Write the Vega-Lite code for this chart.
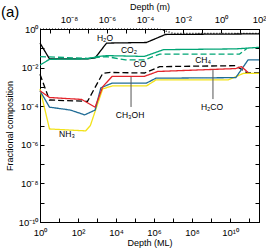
{
  "$schema": "https://vega.github.io/schema/vega-lite/v6.json",
  "width": 219,
  "height": 193,
  "autosize": {"type": "none"},
  "padding": {"left": 40, "top": 29, "right": 7, "bottom": 28},
  "title": {"text": "(a)", "anchor": "start", "frame": "group", "fontSize": 15, "fontWeight": "normal", "dx": -39, "dy": 22, "color": "black"},
  "config": {
    "font": "Liberation Sans",
    "view": {"stroke": "black", "strokeWidth": 1},
    "axis": {
      "grid": false, "domainColor": "black", "tickColor": "black", "labelColor": "black", "titleColor": "black",
      "labelFontSize": 9.5, "titleFontSize": 9, "titleFontWeight": "normal", "tickSize": -4,
      "labelFlush": false, "labelOverlap": false
    }
  },
  "datasets": {
    "lines": [
      {"s": "Total", "x": 1, "f": 0.97}, {"s": "Total", "x": 2e6, "f": 0.97}, {"s": "Total", "x": 1e7, "f": 0.6}, {"s": "Total", "x": 3.333e11, "f": 0.6},
      {"s": "H2O", "x": 1, "f": 0.186}, {"s": "H2O", "x": 3.16, "f": 0.0282}, {"s": "H2O", "x": 316, "f": 0.0282}, {"s": "H2O", "x": 794, "f": 0.0316}, {"s": "H2O", "x": 3162, "f": 0.186}, {"s": "H2O", "x": 3.98e5, "f": 0.2}, {"s": "H2O", "x": 3.98e6, "f": 0.52}, {"s": "H2O", "x": 3.333e11, "f": 0.56},
      {"s": "CO2", "x": 1, "f": 0.0135}, {"s": "CO2", "x": 3.16, "f": 0.0269}, {"s": "CO2", "x": 316, "f": 0.0282}, {"s": "CO2", "x": 1000, "f": 0.0372}, {"s": "CO2", "x": 3162, "f": 0.0417}, {"s": "CO2", "x": 3.16e5, "f": 0.038}, {"s": "CO2", "x": 3.16e6, "f": 0.0851}, {"s": "CO2", "x": 2e10, "f": 0.0933}, {"s": "CO2", "x": 3.333e11, "f": 0.112},
      {"s": "CO", "x": 1, "f": 0.0372}, {"s": "CO", "x": 316, "f": 0.0302}, {"s": "CO", "x": 3162, "f": 0.0372}, {"s": "CO", "x": 3.16e4, "f": 0.0251}, {"s": "CO", "x": 3.16e5, "f": 0.0251}, {"s": "CO", "x": 2e6, "f": 0.0501}, {"s": "CO", "x": 3.16e10, "f": 0.0501}, {"s": "CO", "x": 7.94e10, "f": 0.1},
      {"s": "CH4", "x": 1, "f": 0.00447}, {"s": "CH4", "x": 3.16, "f": 2.09e-4}, {"s": "CH4", "x": 316, "f": 1.78e-4}, {"s": "CH4", "x": 1995, "f": 0.005}, {"s": "CH4", "x": 5012, "f": 0.00562}, {"s": "CH4", "x": 3.16e5, "f": 0.00525}, {"s": "CH4", "x": 2e6, "f": 0.0112}, {"s": "CH4", "x": 2e10, "f": 0.0126}, {"s": "CH4", "x": 7.94e10, "f": 0.00525}, {"s": "CH4", "x": 3.333e11, "f": 0.00525},
      {"s": "NH3", "x": 1, "f": 7.94e-4}, {"s": "NH3", "x": 3.16, "f": 6.61e-6}, {"s": "NH3", "x": 251, "f": 5.25e-6}, {"s": "NH3", "x": 447, "f": 1e-5}, {"s": "NH3", "x": 1995, "f": 7.94e-4}, {"s": "NH3", "x": 6310, "f": 1.12e-3}, {"s": "NH3", "x": 3.98e5, "f": 1.12e-3}, {"s": "NH3", "x": 1.26e6, "f": 2.29e-3}, {"s": "NH3", "x": 7.94e9, "f": 2.29e-3}, {"s": "NH3", "x": 5.01e10, "f": 5.01e-3}, {"s": "NH3", "x": 3.333e11, "f": 5.01e-3},
      {"s": "H2CO", "x": 1, "f": 6.31e-4}, {"s": "H2CO", "x": 3.16, "f": 8.91e-5}, {"s": "H2CO", "x": 39.8, "f": 6.31e-5}, {"s": "H2CO", "x": 224, "f": 3.55e-5}, {"s": "H2CO", "x": 794, "f": 6.31e-5}, {"s": "H2CO", "x": 1585, "f": 8.91e-4}, {"s": "H2CO", "x": 6310, "f": 1.58e-3}, {"s": "H2CO", "x": 3.98e5, "f": 1.58e-3}, {"s": "H2CO", "x": 1.26e6, "f": 2.82e-3}, {"s": "H2CO", "x": 2e10, "f": 3.02e-3}, {"s": "H2CO", "x": 8.91e10, "f": 0.0251}, {"s": "H2CO", "x": 3.333e11, "f": 0.0251},
      {"s": "CH3OH", "x": 1, "f": 6.31e-4}, {"s": "CH3OH", "x": 3.16, "f": 2.82e-4}, {"s": "CH3OH", "x": 158, "f": 2.24e-4}, {"s": "CH3OH", "x": 794, "f": 8.91e-5}, {"s": "CH3OH", "x": 1995, "f": 1.02e-3}, {"s": "CH3OH", "x": 6310, "f": 3.55e-3}, {"s": "CH3OH", "x": 3.16e5, "f": 3.55e-3}, {"s": "CH3OH", "x": 1.58e6, "f": 6.31e-3}, {"s": "CH3OH", "x": 2e10, "f": 8.91e-3}, {"s": "CH3OH", "x": 3.98e10, "f": 0.0112}, {"s": "CH3OH", "x": 8.91e10, "f": 5.6e-3}
    ],
    "labels": [
      {"t": "H₂O", "x": 2630, "f": 0.339},
      {"t": "CO₂", "x": 4.79e4, "f": 0.0813},
      {"t": "CO", "x": 1.82e5, "f": 0.0155},
      {"t": "CH₄", "x": 3.8e8, "f": 0.0245},
      {"t": "H₂CO", "x": 1.12e9, "f": 9.12e-5},
      {"t": "CH₃OH", "x": 5.5e4, "f": 3.47e-5},
      {"t": "NH₃", "x": 26.3, "f": 3.63e-6}
    ],
    "leaders": [
      {"x": 6.17e4, "f1": 3.24e-3, "f2": 9.12e-5},
      {"x": 1.26e9, "f1": 7.94e-3, "f2": 2.34e-4}
    ],
    "meters": [{"m": 3e-10, "f": 1e-5}, {"m": 100, "f": 1e-5}]
  },
  "resolve": {"scale": {"x": "independent"}, "axis": {"y": "independent"}},
  "layer": [
    {
      "layer": [
        {
          "data": {"name": "lines"},
          "mark": {"type": "line", "strokeWidth": 1.3},
          "encoding": {
            "x": {"field": "x", "type": "quantitative",
              "scale": {"type": "log", "domain": [1, 3.333e11], "nice": false},
              "axis": {"orient": "bottom", "title": "Depth (ML)", "values": [1, 10, 100, 1000, 1e4, 1e5, 1e6, 1e7, 1e8, 1e9, 1e10, 1e11], "labelPadding": 9, "titlePadding": 2,
                "labelExpr": "{'0':'10⁰','2':'10²','4':'10⁴','6':'10⁶','8':'10⁸','10':'10¹⁰'}['' + round(log(datum.value)/LN10)] || ''"}},
            "y": {"field": "f", "type": "quantitative",
              "scale": {"type": "log", "domain": [1e-10, 1], "nice": false},
              "axis": {"orient": "left", "title": "Fractional composition", "values": [1e-10, 1e-9, 1e-8, 1e-7, 1e-6, 1e-5, 1e-4, 1e-3, 1e-2, 1e-1, 1], "labelPadding": 6, "titlePadding": 4,
                "labelExpr": "{'0':'10⁰','-2':'10⁻²','-4':'10⁻⁴','-6':'10⁻⁶','-8':'10⁻⁸','-10':'10⁻¹⁰'}['' + round(log(datum.value)/LN10)] || ''"}},
            "color": {"field": "s", "type": "nominal", "legend": null,
              "scale": {"domain": ["Total", "H2O", "CO2", "CO", "CH4", "NH3", "H2CO", "CH3OH"], "range": ["black", "black", "#00a575", "#00a575", "black", "#f2e21a", "#1f6b95", "#e3242b"]}},
            "strokeDash": {"field": "s", "type": "nominal", "legend": null,
              "scale": {"domain": ["Total", "H2O", "CO2", "CO", "CH4", "NH3", "H2CO", "CH3OH"], "range": [[1, 2], [1, 0], [1, 0], [6, 3], [6, 3], [1, 0], [1, 0], [1, 0]]}}
          }
        },
        {
          "data": {"name": "leaders"},
          "mark": {"type": "rule", "color": "#555555", "strokeWidth": 1},
          "encoding": {
            "x": {"field": "x", "type": "quantitative"},
            "y": {"field": "f1", "type": "quantitative"},
            "y2": {"field": "f2"}
          }
        },
        {
          "data": {"name": "labels"},
          "mark": {"type": "text", "fontSize": 8.5, "color": "black", "align": "center", "baseline": "middle"},
          "encoding": {
            "x": {"field": "x", "type": "quantitative"},
            "y": {"field": "f", "type": "quantitative"},
            "text": {"field": "t"}
          }
        }
      ]
    },
    {
      "data": {"name": "meters"},
      "mark": {"type": "point", "opacity": 0},
      "encoding": {
        "x": {"field": "m", "type": "quantitative",
          "scale": {"type": "log", "domain": [3e-10, 100], "nice": false},
          "axis": {"orient": "top", "title": "Depth (m)", "values": [1e-9, 1e-8, 1e-7, 1e-6, 1e-5, 1e-4, 1e-3, 1e-2, 1e-1, 1, 10, 100], "labelPadding": 9, "titlePadding": 3,
            "labelExpr": "{'0':'10⁰','2':'10²','-2':'10⁻²','-4':'10⁻⁴','-6':'10⁻⁶','-8':'10⁻⁸'}['' + round(log(datum.value)/LN10)] || ''"}},
        "y": {"field": "f", "type": "quantitative",
          "axis": {"orient": "right", "title": null, "labels": false, "values": [1e-10, 1e-9, 1e-8, 1e-7, 1e-6, 1e-5, 1e-4, 1e-3, 1e-2, 1e-1, 1]}}
      }
    }
  ]
}
